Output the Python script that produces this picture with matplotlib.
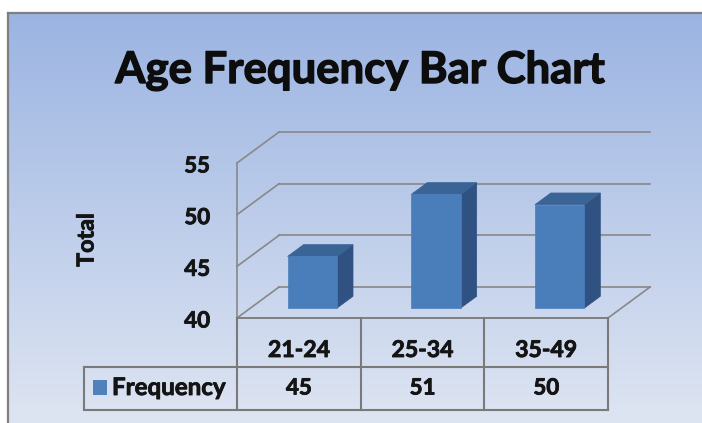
import numpy as np
import matplotlib
matplotlib.use("Agg")
import matplotlib.pyplot as plt
import matplotlib.patheffects as pe
from matplotlib.patches import Polygon, Rectangle
from matplotlib.lines import Line2D
from matplotlib.transforms import Affine2D, blended_transform_factory

# ---------------- data ----------------
title = "Age Frequency Bar Chart"
categories = ["21-24", "25-34", "35-49"]
frequency = [45, 51, 50]
series_name = "Frequency"
y_ticks = [40, 45, 50, 55]
y_label = "Total"

plt.rcParams['font.family'] = ['Lato', 'DejaVu Sans']
plt.rcParams['font.weight'] = 'bold'

W, H = 702, 423
fig = plt.figure(figsize=(W / 100, H / 100), dpi=100)
fig.patch.set_facecolor("white")
pix = Affine2D().scale(1 / W, -1 / H).translate(0, 1) + fig.transFigure

# background gradient panel
bg = fig.add_axes([8 / W, 0, 1 - 8 / W, 1 - 13 / H], zorder=0)
c_top = np.array([155, 180, 226]) / 255
c_bot = np.array([222, 229, 242]) / 255
t = np.linspace(0, 1, 256)[:, None, None]
grad = c_top[None, None, :] * (1 - t) + c_bot[None, None, :] * t
bg.imshow(grad, aspect='auto', extent=[0, 1, 0, 1], origin='upper')
bg.axis('off')
fig.add_artist(Line2D([8, 8], [13, 423], transform=pix, color='#7f7f7f', lw=1.6))
fig.add_artist(Line2D([8, 702], [13, 13], transform=pix, color='#7f7f7f', lw=1.6))

# main axes (front plane of the 3D box)
ax = fig.add_axes([237 / W, 1 - 318 / H, 371 / W, 155 / H], zorder=2)
ax.set_xlim(-0.5, len(categories) - 0.5)
ax.set_ylim(y_ticks[0], y_ticks[-1])
ax.axis('off')
ax.patch.set_alpha(0)

DX, DY = 0.34, 3.0  # depth shear in data units
x0, x1 = -0.5, len(categories) - 0.5
base = y_ticks[0]
gcol = '#888888'
glw = 1.2

def P(x, v, f):
    return (x + f * DX, v + f * DY)

for v in y_ticks:
    ax.plot(*zip(P(x0, v, 1), P(x1, v, 1)), color=gcol, lw=glw, clip_on=False, zorder=1)
    ax.plot(*zip(P(x0, v, 0), P(x0, v, 1)), color=gcol, lw=glw, clip_on=False, zorder=1)
ax.plot([x0, x0], [y_ticks[0], y_ticks[-1]], color=gcol, lw=glw, clip_on=False, zorder=1)
ax.plot(*zip(P(x1, base, 0), P(x1, base, 1)), color=gcol, lw=glw, clip_on=False, zorder=1)
ax.plot([x0, x1], [base, base], color='#7f7f7f', lw=1.4, clip_on=False, zorder=1)

# 3D bars
hw, f0, f1 = 0.2, 0.32, 0.70
c_front, c_side, c_top_face = '#4a7ebb', '#2f5283', '#3a6396'
for i, val in enumerate(frequency):
    front = [P(i - hw, base, f0), P(i + hw, base, f0), P(i + hw, val, f0), P(i - hw, val, f0)]
    side = [P(i + hw, base, f0), P(i + hw, base, f1), P(i + hw, val, f1), P(i + hw, val, f0)]
    topf = [P(i - hw, val, f0), P(i + hw, val, f0), P(i + hw, val, f1), P(i - hw, val, f1)]
    for poly, col in ((side, c_side), (topf, c_top_face), (front, c_front)):
        ax.add_patch(Polygon(poly, closed=True, facecolor=col, edgecolor=col, lw=0.5,
                             clip_on=False, zorder=3))

renderer = fig.canvas.get_renderer()

def fit(txt, target, vertical=False, stroke=0.6):
    bb = txt.get_window_extent(renderer)
    cur = bb.height if vertical else bb.width
    txt.set_fontsize(txt.get_fontsize() * target / cur)
    txt.set_path_effects([pe.withStroke(linewidth=stroke, foreground=txt.get_color())])

tcolr = '#141414'

# y tick labels
for v in y_ticks:
    tx = ax.annotate(str(v), xy=(x0, v), xytext=(-27 * 0.72, -3 * 0.72),
                     textcoords='offset points', ha='right', va='center',
                     fontsize=17, color=tcolr, annotation_clip=False)
    fit(tx, 26)

# y label
tl = fig.text(87 / W, 1 - 240 / H, y_label, rotation=90, ha='center', va='center',
              fontsize=14, color=tcolr)
fit(tl, 54, vertical=True)

# title
tt = fig.text(360 / W, 1 - 83 / H, title, ha='center', va='baseline', fontsize=34, color='#0d0d0d')
fit(tt, 490, stroke=1.0)

# data table
bt = blended_transform_factory(ax.transData, pix)
tcol = '#7a7a7a'
tlw = 1.5
for xb in np.arange(len(categories) + 1) - 0.5:
    ax.plot([xb, xb], [318, 410], transform=bt, color=tcol, lw=tlw, clip_on=False)
fig.add_artist(Line2D([84, 608], [367, 367], transform=pix, color=tcol, lw=tlw))
fig.add_artist(Line2D([84, 608], [410, 410], transform=pix, color=tcol, lw=tlw))
fig.add_artist(Line2D([84, 84], [367, 410], transform=pix, color=tcol, lw=tlw))

for i, (cat, val) in enumerate(zip(categories, frequency)):
    tc = ax.text(i, 350.5, cat, transform=bt, ha='center', va='center', fontsize=18, color=tcolr)
    fit(tc, 62)
    tv = ax.text(i, 388, str(val), transform=bt, ha='center', va='center', fontsize=18, color=tcolr)
    fit(tv, 26)

fig.add_artist(Rectangle((93, 380.5), 14, 14.5, transform=pix, facecolor='#4f81bd', edgecolor='none'))
tf = fig.text(112 / W, 1 - 395 / H, series_name, ha='left', va='baseline', fontsize=17, color=tcolr)
fit(tf, 114)

fig.savefig("out.png", dpi=100)
